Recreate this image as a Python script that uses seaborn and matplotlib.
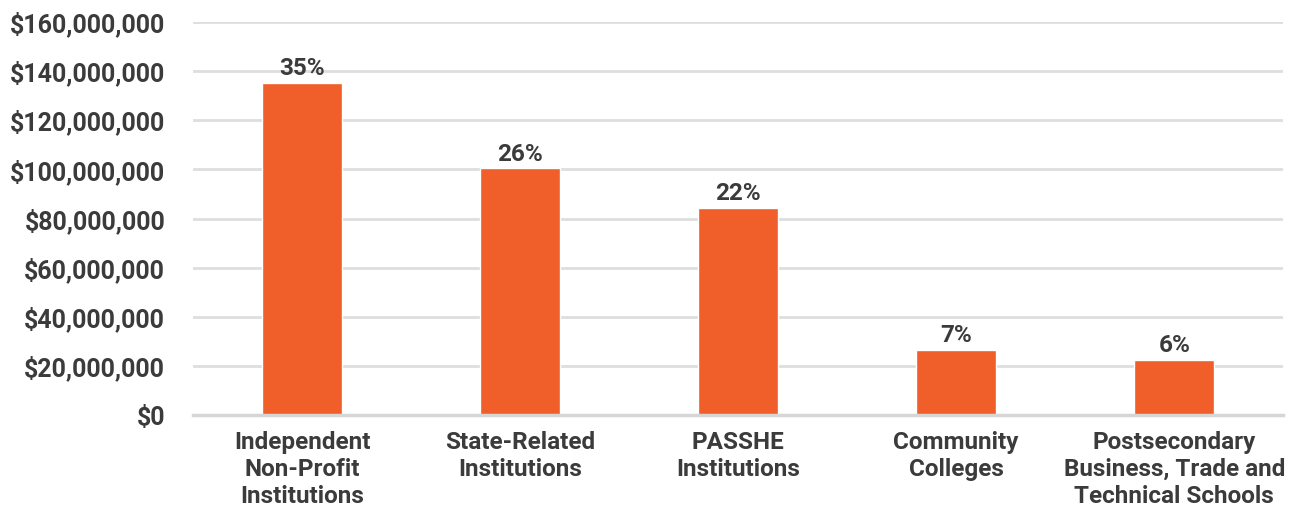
import matplotlib
matplotlib.use("Agg")
import matplotlib.pyplot as plt
import seaborn as sns
import pandas as pd

categories = ["Independent\nNon-Profit\nInstitutions", "State-Related\nInstitutions",
              "PASSHE\nInstitutions", "Community\nColleges",
              "Postsecondary\nBusiness, Trade and\nTechnical Schools"]
values = [135_100_000, 100_400_000, 84_400_000, 26_700_000, 22_700_000]
pct_labels = ["35%", "26%", "22%", "7%", "6%"]
yticks = [0, 20_000_000, 40_000_000, 60_000_000, 80_000_000,
          100_000_000, 120_000_000, 140_000_000, 160_000_000]

sns.set_theme(style="white")
plt.rcParams['font.family'] = ['Roboto', 'DejaVu Sans']
txt = "#3b3b3b"

df = pd.DataFrame({"cat": categories, "val": values})
fig = plt.figure(figsize=(12.91, 5.12), dpi=100)
ax = fig.add_axes([0.1495, 0.1885, 0.8445, 0.7691])
sns.barplot(data=df, x="cat", y="val", color="#F05E2A", saturation=1,
            width=0.366, ax=ax, zorder=3)
ax.set_ylim(0, 160_000_000)
ax.set_xlim(-0.5, 4.5)
ax.set_yticks(yticks)
ax.set_yticklabels([f"${v:,.0f}" for v in yticks], fontsize=18,
                   fontweight="bold", color=txt)
ax.set_xticks(range(len(categories)))
ax.set_xticklabels(categories, fontsize=17.5, fontweight="bold", color=txt,
                   linespacing=1.24)
ax.tick_params(axis="y", length=0, pad=20)
ax.tick_params(axis="x", length=0, pad=11)
ax.set_xlabel("")
ax.set_ylabel("")
ax.grid(axis="y", color="#dedede", linewidth=2, zorder=0)
for s in ["top", "right", "left"]:
    ax.spines[s].set_visible(False)
ax.spines["bottom"].set_color("#d6d6d6")
ax.spines["bottom"].set_linewidth(2.5)
ax.spines["bottom"].set_zorder(4)

for i, (v, lab) in enumerate(zip(values, pct_labels)):
    ax.annotate(lab, (i, v), xytext=(0, 2), textcoords="offset points",
                ha="center", va="bottom", fontsize=17.5, fontweight="bold",
                color=txt)

fig.savefig("out.png", dpi=100)
